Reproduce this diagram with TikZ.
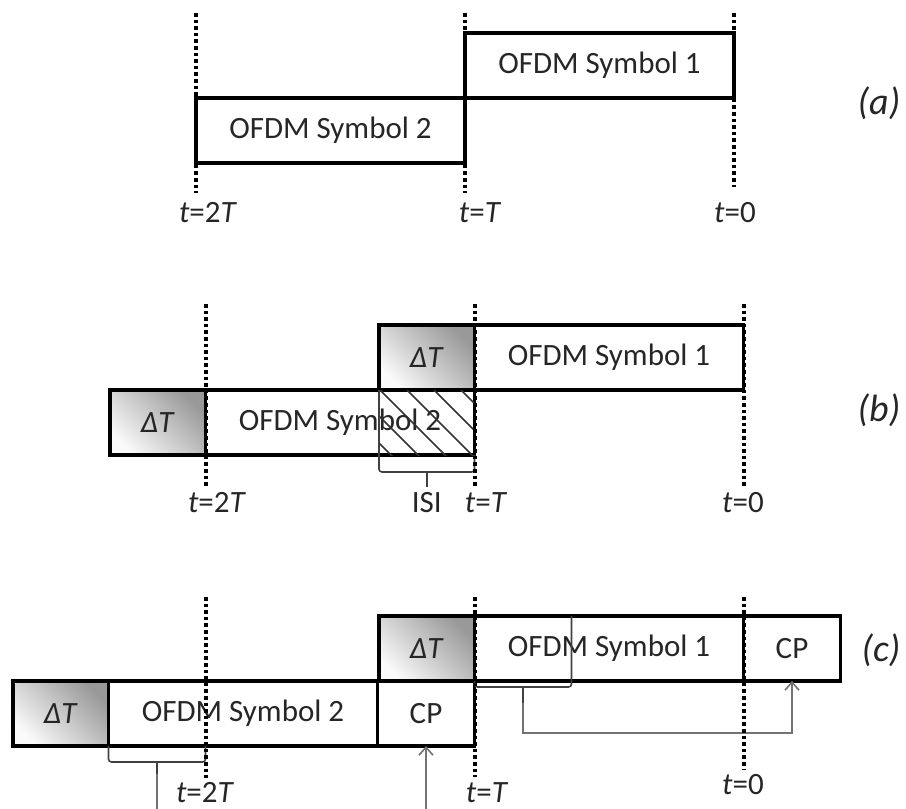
\documentclass[tikz,border=0pt]{standalone}
\usepackage{fontspec}
\setmainfont{Carlito}
\usepackage{tikz}
\usetikzlibrary{arrows.meta, positioning}

\newcommand{\tlabel}[1]{\textit{t}=#1}

\begin{document}
\begin{tikzpicture}[
    x=0.5pt, y=-0.5pt,
    box/.style={draw, line width=1.8pt, minimum height=32.5pt, inner sep=0pt, outer sep=0pt, font=\fontsize{15.5}{18}\selectfont, text=black!85},
    dt/.style={box, minimum width=47.75pt, top color=black!40, bottom color=black!2, shading angle=-45},
    sym/.style={box, minimum width=134.5pt},
    cp/.style={box, minimum width=48.5pt},
    tline/.style={line width=2pt, dash pattern=on 1.8pt off 1.5pt},
    tlab/.style={font=\fontsize{15.5}{18}\selectfont, text=black!85},
    plab/.style={font=\fontsize{19}{22}\selectfont\itshape, text=black!85},
    brk/.style={line width=0.8pt, black!75, rounded corners=1.5pt},
    conn/.style={line width=0.8pt, black!55},
    arr/.style={conn, -{Straight Barb[length=4pt, width=7pt]}}
]
    \useasboundingbox (0,0) rectangle (906,809);

    % (a)
    \node[sym, anchor=north west] (asym1) at (465,33) {OFDM Symbol 1};
    \node[sym, anchor=north west] (asym2) at (196,98) {OFDM Symbol 2};
    \foreach \x/\yb/\lx/\txt in {196/193/208/{2\textit{T}}, 465/193/480/{\textit{T}}, 734/187/735/{0}} {
        \draw[tline] (\x,13) -- (\x,\yb);
        \node[tlab] (ta\x) at (\lx,213) {\tlabel{\txt}};
    }
    \node[plab] (pa) at (879,103) {(a)};

    % (b)
    \node[dt, anchor=north west] (bdt1) at (379,325) {\textit{ΔT}};
    \node[sym, right=0pt of bdt1] (bsym1) {OFDM Symbol 1};
    \node[dt, anchor=north west] (bdt2) at (110,390) {\textit{ΔT}};
    \node[sym, right=0pt of bdt2] (bsym2) {OFDM Symbol 2};
    \begin{scope}
        \clip (bdt1.south west) rectangle (bsym2.south east);
        \foreach \k in {-2,...,3}
            \draw[line width=0.8pt, black!80] (380+27*\k,390) -- ++(70,70);
    \end{scope}
    \draw[brk] (bdt1.south west) -- ++(0,82) -| (bsym2.south east);
    \draw[brk] (bdt1.south) ++(0,82) -- ++(0,15);
    \node[tlab] (isi) at (bdt1.south |- 0,503) {ISI};
    \foreach \x/\lx/\txt in {205.5/217/{2\textit{T}}, 474.5/486/{\textit{T}}, 743.5/743/{0}} {
        \draw[tline] (\x,304) -- (\x,486);
        \node[tlab] (tb\x) at (\lx,503) {\tlabel{\txt}};
    }
    \node[plab] (pb) at (879,410) {(b)};

    % (c)
    \node[dt, anchor=north west] (cdt1) at (379,616) {\textit{ΔT}};
    \node[sym, right=0pt of cdt1] (csym1) {OFDM Symbol 1};
    \node[cp, right=0pt of csym1] (ccp1) {CP};
    \node[dt, anchor=north west] (cdt2) at (13,681) {\textit{ΔT}};
    \node[sym, right=0pt of cdt2] (csym2) {OFDM Symbol 2};
    \node[cp, right=0pt of csym2] (ccp2) {CP};
    \draw[brk] (cdt2.south east) -- ++(0,16) -| ([xshift=48.5pt]csym2.south west);
    \draw[brk] ([xshift=24.25pt]csym2.south west) ++(0,16) -- ++(0,12) coordinate (ctk1);
    \draw[conn] (ctk1) -- (ctk1 |- 0,809);
    \draw[arr] (ccp2.south |- 0,809) -- (ccp2.south);
    \draw[brk] ([xshift=48.5pt]csym1.north west) -- ++(0,71) -| (csym1.south west);
    \draw[brk] ([xshift=24.25pt, yshift=-3pt]csym1.south west) -- ++(0,16) coordinate (ctk2);
    \draw[arr] (ctk2) |- ([yshift=-26pt]ccp1.south) -- (ccp1.south);
    \foreach \x/\yb/\lx/\ly/\txt in {205.5/778/205/793/{2\textit{T}}, 474.5/777/487/793/{\textit{T}}, 743.5/770/743/785/{0}} {
        \draw[tline] (\x,597) -- (\x,\yb);
        \node[tlab] (tc\x) at (\lx,\ly) {\tlabel{\txt}};
    }
    \node[plab] (pc) at (881,650) {(c)};
\end{tikzpicture}
\end{document}
